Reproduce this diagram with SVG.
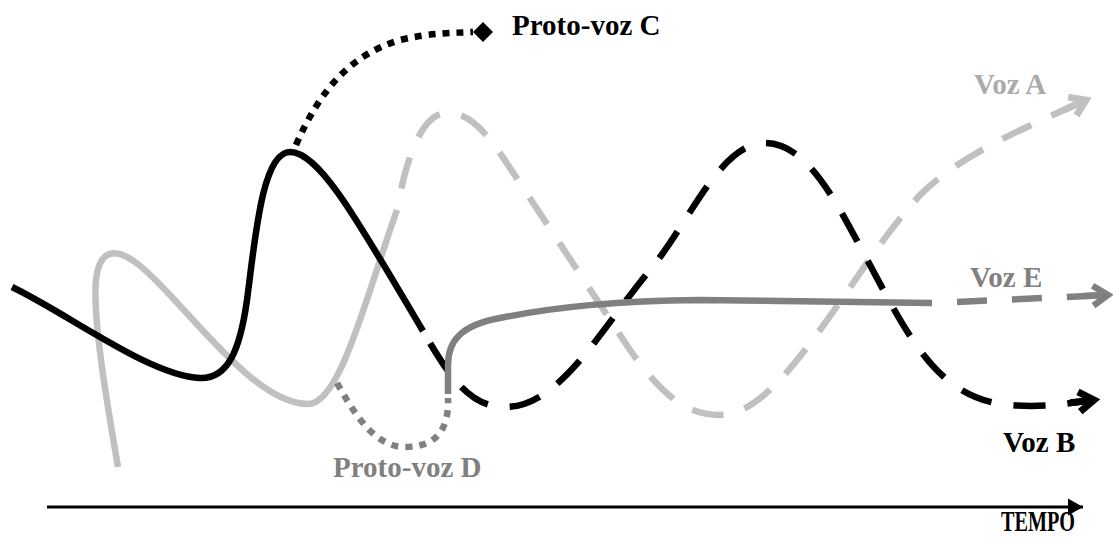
<svg xmlns="http://www.w3.org/2000/svg" width="1113" height="538" viewBox="0 0 1113 538">
<style>
.lbl{font-family:"Liberation Serif","Times New Roman",serif;font-weight:bold;font-size:29px}
.c{fill:none;stroke-width:6.5;stroke-linecap:butt;stroke-linejoin:round}
.dash{stroke-dasharray:32 22}
.dot{stroke-dasharray:7 7}
</style>
<defs>
<marker id="arrA" markerUnits="userSpaceOnUse" viewBox="-30 -15 35 30" markerWidth="35" markerHeight="30" refX="0" refY="0" orient="auto" overflow="visible">
<path d="M-24,0 L-1,0 M-15,-10 L0,0 L-15,10" fill="none" stroke="#c0c0c0" stroke-width="7"/>
</marker>
<marker id="arrE" markerUnits="userSpaceOnUse" viewBox="-30 -15 35 30" markerWidth="35" markerHeight="30" refX="0" refY="0" orient="auto" overflow="visible">
<path d="M-24,0 L-1,0 M-15,-10 L0,0 L-15,10" fill="none" stroke="#808080" stroke-width="6.5"/>
</marker>
<marker id="arrB" markerUnits="userSpaceOnUse" viewBox="-30 -15 35 30" markerWidth="35" markerHeight="30" refX="0" refY="0" orient="auto" overflow="visible">
<path d="M-24,0 L-1,0 M-15,-10 L0,0 L-15,10" fill="none" stroke="#000" stroke-width="7"/>
</marker>
<marker id="tri" markerUnits="userSpaceOnUse" viewBox="-16 -9 17 18" markerWidth="17" markerHeight="18" refX="0" refY="0" orient="auto" overflow="visible">
<path d="M-15,-8.5 L0,0 L-15,8.5 Z" fill="#000"/>
</marker>
<marker id="dia" markerUnits="userSpaceOnUse" viewBox="-2 -12 24 24" markerWidth="24" markerHeight="24" refX="0" refY="0" orient="0" overflow="visible">
<path d="M0,0 L10,-10 L20,0 L10,10 Z" fill="#000"/>
</marker>
</defs>
<g id="connectors">
<g id="voz-a">
<path class="c" stroke="#c0c0c0" d="M118,467 C110,420 92,320 96,280 C99,250 115,247 135,262 C180,295 250,404 308,404 C340,404 365,300 397,210"/>
<path class="c dash" stroke="#c0c0c0" stroke-dashoffset="32" marker-end="url(#arrA)" d="M397,210 C405,165 420,113 447,113 C470,113 485,130 510,168 L630,350 C665,400 690,415 720,415 C750,415 780,385 820,330 C860,275 880,240 920,195 C960,155 1020,130 1086,100"/>
</g>
<g id="voz-b">
<path class="c" stroke="#000" d="M12,287 C70,315 150,376 200,378 C228,379 240,350 247,300 C255,240 262,152 290,152 C320,152 360,225 423,331"/>
<path class="c dash" stroke="#000" stroke-dashoffset="40" marker-end="url(#arrB)" d="M423,331 C450,378 470,407 505,407 C560,407 600,330 650,270 C690,222 720,143 765,143 C810,143 840,210 870,265 C910,340 940,400 1010,405 C1045,408 1068,403 1094,400"/>
</g>
<g id="proto-voz-c">
<path class="c dot" stroke="#000" marker-end="url(#dia)" d="M296,145 C320,90 350,55 400,40 C430,33 450,33 473,32"/>
</g>
<g id="proto-voz-d">
<path class="c dot" stroke="#808080" d="M337,383 C355,415 375,447 405,447 C440,447 449,425 448,398"/>
</g>
<g id="voz-e">
<path class="c" stroke="#808080" d="M448,394 L448,365 C448,340 462,325 500,318 C560,306 620,301 700,300 L932,303"/>
<path class="c" stroke="#808080" stroke-dasharray="30 25" marker-end="url(#arrE)" d="M957,302 L1108,295"/>
</g>
<g id="timeline">
<path fill="none" stroke="#000" stroke-width="3" marker-end="url(#tri)" d="M47,507 L1083,507"/>
</g>
</g>
<g id="label-proto-voz-c"><text class="lbl" x="512" y="35" fill="#000">Proto-voz C</text></g>
<g id="label-voz-a"><text class="lbl" x="974" y="94" fill="#aaaaaa">Voz A</text></g>
<g id="label-voz-e"><text class="lbl" x="970" y="287" fill="#808080">Voz E</text></g>
<g id="label-voz-b"><text class="lbl" x="1003" y="452" fill="#000">Voz B</text></g>
<g id="label-proto-voz-d"><text class="lbl" x="333" y="477" fill="#808080">Proto-voz D</text></g>
<g id="label-tempo"><text class="lbl" x="1001" y="531" fill="#000" font-size="24" textLength="74" lengthAdjust="spacingAndGlyphs">TEMPO</text></g>
</svg>
